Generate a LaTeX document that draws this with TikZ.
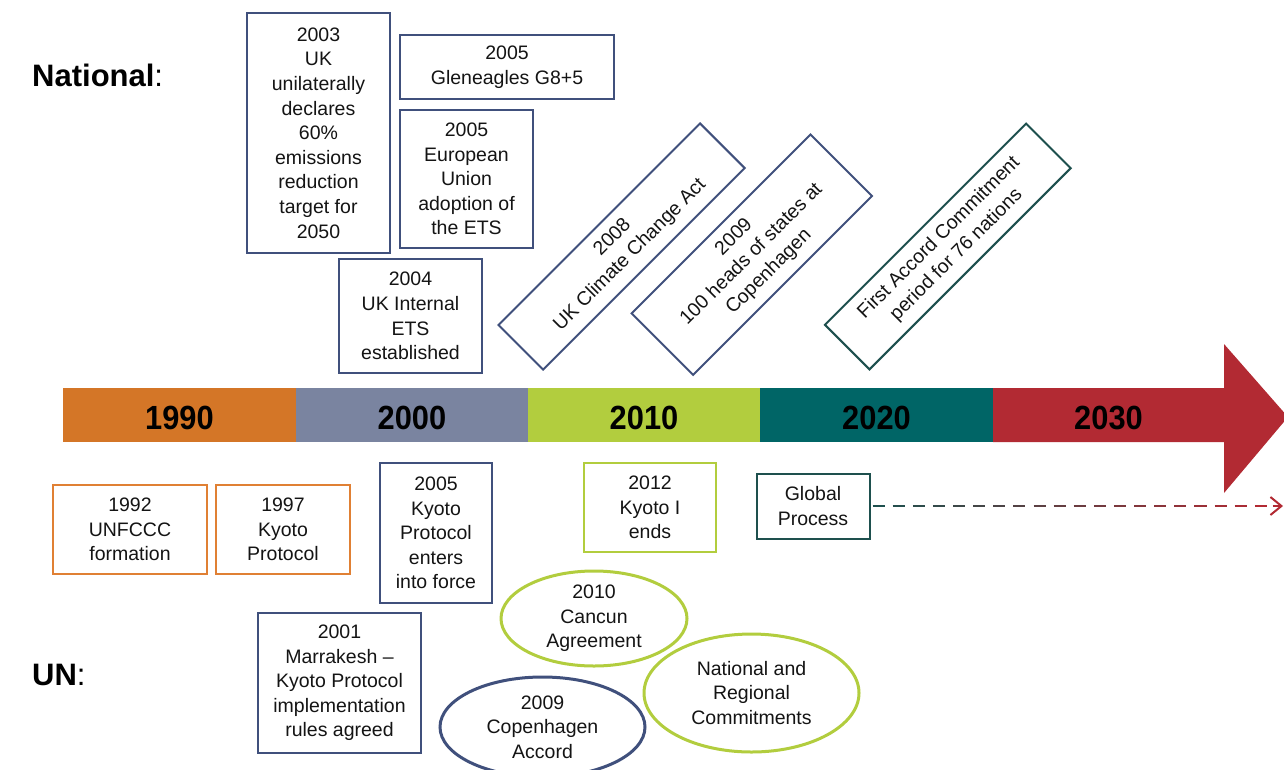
\documentclass[tikz,border=0pt]{standalone}
\usepackage{fontspec}
\setmainfont{Liberation Sans}
\newfontfamily\barfont[FakeStretch=0.92]{Liberation Sans}
\usetikzlibrary{arrows.meta,shapes.geometric,calc}
\definecolor{cOrange}{RGB}{212,118,39}
\definecolor{cOrangeB}{RGB}{224,128,52}
\definecolor{cSlate}{RGB}{122,132,160}
\definecolor{cSlateB}{RGB}{64,80,124}
\definecolor{cGreen}{RGB}{178,205,62}
\definecolor{cTeal}{RGB}{0,101,102}
\definecolor{cTealB}{RGB}{30,80,78}
\definecolor{cRed}{RGB}{178,42,51}
\definecolor{cText}{RGB}{20,20,20}
\begin{document}
\begin{tikzpicture}[x=1pt,y=-1pt,
  box/.style={draw=cSlateB, line width=2pt, fill=white, align=center, inner sep=0pt,
    text=cText, font=\fontsize{19.5}{24.6}\selectfont},
  oval/.style={ellipse, draw=cGreen, line width=3pt, fill=white, align=center, inner sep=0pt,
    text=cText, font=\fontsize{19.5}{24.6}\selectfont},
  seg/.style={minimum height=54, inner sep=0pt, text=black, text height=29pt, text depth=0pt,
    font=\barfont\fontsize{33.5}{33.5}\selectfont\bfseries},
  heading/.style={anchor=west, inner sep=0pt, text=black, font=\fontsize{31}{31}\selectfont}
]
\useasboundingbox (0,0) rectangle (1284,769);
\clip (0,0) rectangle (1284,769);

% headings
\node[heading] (nat) at (32,75) {\textbf{National}:};
\node[heading] (un) at (32,675) {\textbf{UN}:};

% timeline bar
\node[seg, fill=cOrange, minimum width=233.5] (s1) at (179.5,415) {1990};
\node[seg, fill=cSlate, minimum width=232.5] (s2) at (412,415) {2000};
\node[seg, fill=cGreen, minimum width=232.5] (s3) at (644,415) {2010};
\node[seg, fill=cTeal, minimum width=233.5] (s4) at (876.5,415) {2020};
\fill[cRed] (993,388) -- (1224,388) -- (1224,344) -- (1288,417) -- (1224,493) -- (1224,442) -- (993,442) -- cycle;
\node[seg, minimum width=231] (s5) at (1108.5,415) {2030};

% national boxes
\node[box, minimum width=143, minimum height=240] (a) at (318.5,133)
  {2003\\UK\\unilaterally\\declares\\60\%\\emissions\\reduction\\target for\\2050};
\node[box, minimum width=214, minimum height=64] (b) at (507,67) {2005\\Gleneagles G8+5};
\node[box, minimum width=133, minimum height=138] (c) at (466.5,179)
  {2005\\European\\Union\\adoption of\\the ETS};
\node[box, minimum width=143, minimum height=114] (d) at (410.5,316)
  {2004\\UK Internal\\ETS\\established};
\node[box, rotate=45, minimum width=285, minimum height=63] (e) at (621.6,246.5)
  {2008\\UK Climate Change Act};
\node[box, rotate=45, minimum width=253, minimum height=87] (f) at (751.8,254.7)
  {2009\\100 heads of states at\\Copenhagen};
\node[box, draw=cTealB, rotate=45, minimum width=284.5, minimum height=63] (g) at (947.8,246.5)
  {First Accord Commitment\\period for 76 nations};

% UN boxes
\node[box, draw=cOrangeB, minimum width=154, minimum height=89] (u1) at (130,529.5)
  {1992\\UNFCCC\\formation};
\node[box, draw=cOrangeB, minimum width=134, minimum height=89] (u2) at (283,529.5)
  {1997\\Kyoto\\Protocol};
\node[box, minimum width=112, minimum height=140] (u3) at (436,533)
  {2005\\Kyoto\\Protocol\\enters\\into force};
\node[box, minimum width=163, minimum height=140] (u4) at (339.5,683)
  {2001\\Marrakesh --\\Kyoto Protocol\\implementation\\rules agreed};
\node[box, draw=cGreen, minimum width=132, minimum height=89] (u5) at (650,507.5)
  {2012\\Kyoto I\\ends};
\node[box, draw=cTealB, minimum width=113, minimum height=65] (gp) at (813,506)
  {Global\\Process};

% ellipses
\node[oval, minimum width=186, minimum height=95] (cancun) at (594,618.5)
  {2010\\Cancun\\Agreement};
\node[oval, minimum width=215, minimum height=118] (nrc) at (751.5,693)
  {National and\\Regional\\Commitments};
\node[oval, draw=cSlateB, minimum width=205, minimum height=100] (cop) at (542.5,727)
  {2009\\Copenhagen\\Accord};

% dashed connector with colour gradient
\coordinate (gpend) at (1283,506);
\foreach \i in {0,...,19} {
  \pgfmathsetmacro\fa{(\i+0.1)/20.5}
  \pgfmathsetmacro\fb{(\i+0.7)/20.5}
  \pgfmathtruncatemacro\pc{100*\i/19}
  \draw[line width=2pt, color=cRed!\pc!cTealB] ($(gp.east)!\fa!(gpend)$) -- ($(gp.east)!\fb!(gpend)$);
}
\draw[line width=2pt, cRed, -{Straight Barb[length=11pt,width=18pt,line width=2pt]}]
  ($(gp.east)!0.975!(gpend)$) -- (gpend);
\end{tikzpicture}
\end{document}
